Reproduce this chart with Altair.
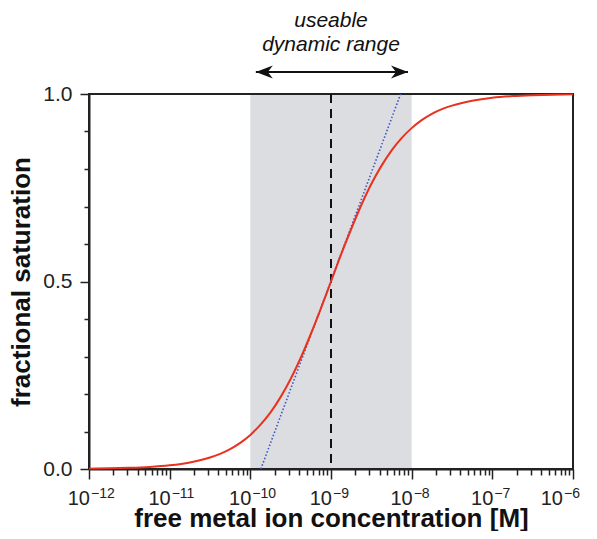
import altair as alt
import pandas as pd

# ---- data ----
conc = [1e-12, 1.78e-12, 3.16e-12, 5.62e-12,
        1e-11, 1.78e-11, 3.16e-11, 4.22e-11, 5.62e-11, 7.50e-11,
        1e-10, 1.33e-10, 1.78e-10, 2.37e-10, 3.16e-10, 4.22e-10, 5.62e-10, 7.50e-10,
        1e-9, 1.33e-9, 1.78e-9, 2.37e-9, 3.16e-9, 4.22e-9, 5.62e-9, 7.50e-9,
        1e-8, 1.33e-8, 1.78e-8, 2.37e-8, 3.16e-8, 5.62e-8,
        1e-7, 1.78e-7, 3.16e-7, 5.62e-7, 1e-6]
saturation = [0.001, 0.0018, 0.0032, 0.0056,
              0.0099, 0.0175, 0.0307, 0.0405, 0.0532, 0.0698,
              0.0909, 0.1177, 0.151, 0.1917, 0.240, 0.2966, 0.360, 0.4285,
              0.5, 0.5715, 0.640, 0.7034, 0.760, 0.8083, 0.849, 0.8823,
              0.909, 0.9302, 0.947, 0.9595, 0.969, 0.982,
              0.990, 0.9944, 0.9968, 0.9982, 0.999]
tangent_conc = [1.35e-10, 7.3e-9]
tangent_sat = [0.0, 1.0]
band_conc = [1e-10, 1e-8]
midpoint_conc = [1e-9]
arrow_conc = [1.17e-10, 9.0e-9]
decade_values = [1e-12, 1e-11, 1e-10, 1e-9, 1e-8, 1e-7, 1e-6]
decade_exponents = ["\u221212", "\u221211", "\u221210", "\u22129", "\u22128", "\u22127", "\u22126"]
minor_mantissas = [2, 3, 4, 5, 6, 7, 8, 9]
y_ticks = [0.0, 0.1, 0.2, 0.3, 0.4, 0.5, 0.6, 0.7, 0.8, 0.9, 1.0]
annotation_text = "useable\ndynamic range"
x_title = "free metal ion concentration [M]"
y_title = "fractional saturation"

x_tick_values = decade_values + [m * d for d in decade_values[:-1] for m in minor_mantissas]

W, H = 484, 375
FONT = "Liberation Sans"
INK = "#222222"

xscale = alt.Scale(type="log", domain=[1e-12, 1e-6], nice=False)
yscale = alt.Scale(domain=[0, 1], nice=False)

curve_df = pd.DataFrame({"conc": conc, "sat": saturation})
tangent_df = pd.DataFrame({"conc": tangent_conc, "sat": tangent_sat})
band_df = pd.DataFrame({"x0": [band_conc[0]], "x1": [band_conc[1]]})
mid_df = pd.DataFrame({"x": midpoint_conc})
arrow_df = pd.DataFrame({"x0": [arrow_conc[0]], "x1": [arrow_conc[1]]})
head_df = pd.DataFrame({"x": arrow_conc, "side": ["left", "right"]})
tick_df = pd.DataFrame({"value": decade_values, "exp": decade_exponents})
annot_df = pd.DataFrame({"x": midpoint_conc, "t": [annotation_text]})

x_major_test = "abs(log(datum.value)/LN10 - round(log(datum.value)/LN10)) < 0.01"
y_major_test = "abs(datum.value*2 - round(datum.value*2)) < 0.01"

x_axis = alt.Axis(
    values=x_tick_values, labels=False, grid=False,
    tickSize={"condition": {"test": x_major_test, "value": 10}, "value": 6},
    tickColor=INK, tickWidth=1.5, domainColor=INK, domainWidth=2,
    title=x_title, titleFont=FONT, titleFontSize=26, titleFontWeight="bold",
    titleColor="#111111", titleY=57, titleBaseline="alphabetic",
)
y_axis = alt.Axis(
    values=y_ticks, grid=False,
    labelExpr=f"({y_major_test}) ? format(datum.value, '.1f') : ''",
    tickSize={"condition": {"test": y_major_test, "value": 9}, "value": 5},
    tickColor=INK, tickWidth=1.5, domainColor=INK, domainWidth=2,
    labelFont=FONT, labelFontSize=21, labelColor=INK, labelPadding=8,
    title=y_title, titleFont=FONT, titleFontSize=26, titleFontWeight="bold",
    titleColor="#111111", titleX=-60, titleY=H / 2, titleBaseline="alphabetic",
    titleAngle=270,
)


def X(field):
    return alt.X(field, scale=xscale, axis=x_axis)


band = alt.Chart(band_df).mark_rect(color="#dcdde0").encode(
    x=X("x0:Q"), x2="x1:Q",
    y=alt.value(1), y2=alt.value(H - 1),
)
mid = alt.Chart(mid_df).mark_rule(color="#111111", strokeWidth=2, strokeDash=[9, 6]).encode(
    x=X("x:Q")
)
tangent = alt.Chart(tangent_df).mark_line(color="#3f55c6", strokeWidth=1.6, strokeDash=[1.5, 2]).encode(
    x=X("conc:Q"),
    y=alt.Y("sat:Q", scale=yscale, axis=y_axis),
)
curve = alt.Chart(curve_df).mark_line(color="#e8321f", strokeWidth=2, interpolate="monotone").encode(
    x=X("conc:Q"),
    y=alt.Y("sat:Q", scale=yscale, axis=y_axis),
)


def tick_labels(filter_expr, shift):
    base = alt.Chart(tick_df).transform_filter(filter_expr)
    ten = base.mark_text(
        align="right", baseline="alphabetic", font=FONT, fontSize=20, color=INK, dx=1 + shift
    ).encode(x=X("value:Q"), y=alt.value(H + 36), text=alt.value("10"))
    expo = base.mark_text(
        align="left", baseline="alphabetic", font=FONT, fontSize=14, color=INK, dx=2 + shift
    ).encode(x=X("value:Q"), y=alt.value(H + 29), text="exp:N")
    return [ten, expo]


inner_labels = tick_labels("datum.value < 5e-7", 0)
last_labels = tick_labels("datum.value > 5e-7", -11)

arrow = alt.Chart(arrow_df).mark_rule(color="#111111", strokeWidth=2).encode(
    x=X("x0:Q"), x2="x1:Q", y=alt.value(-22)
)
left_head = "M0,0 L17,-6.5 L12,0 L17,6.5 Z"
right_head = "M0,0 L-17,-6.5 L-12,0 L-17,6.5 Z"
heads = alt.Chart(head_df).mark_point(filled=True, opacity=1, color="#111111", size=4, strokeWidth=0).encode(
    x=X("x:Q"), y=alt.value(-22),
    shape=alt.Shape("side:N", scale=alt.Scale(domain=["left", "right"], range=[left_head, right_head]), legend=None),
)
annot = alt.Chart(annot_df).mark_text(
    font=FONT, fontSize=21, fontStyle="italic", color="#111111",
    lineBreak="\n", lineHeight=24, baseline="middle", align="center"
).encode(
    x=X("x:Q"), y=alt.value(-73), text="t:N"
)

chart = alt.layer(band, mid, tangent, curve, *inner_labels, *last_labels, arrow, heads, annot).properties(
    width=W, height=H,
    autosize=alt.AutoSizeParams(type="none"),
    padding={"left": 81, "top": 86, "right": 8, "bottom": 62},
    background="white",
).configure_view(stroke=INK, strokeWidth=2)

chart.save("out.html", embed_options={"renderer": "svg", "actions": False})
